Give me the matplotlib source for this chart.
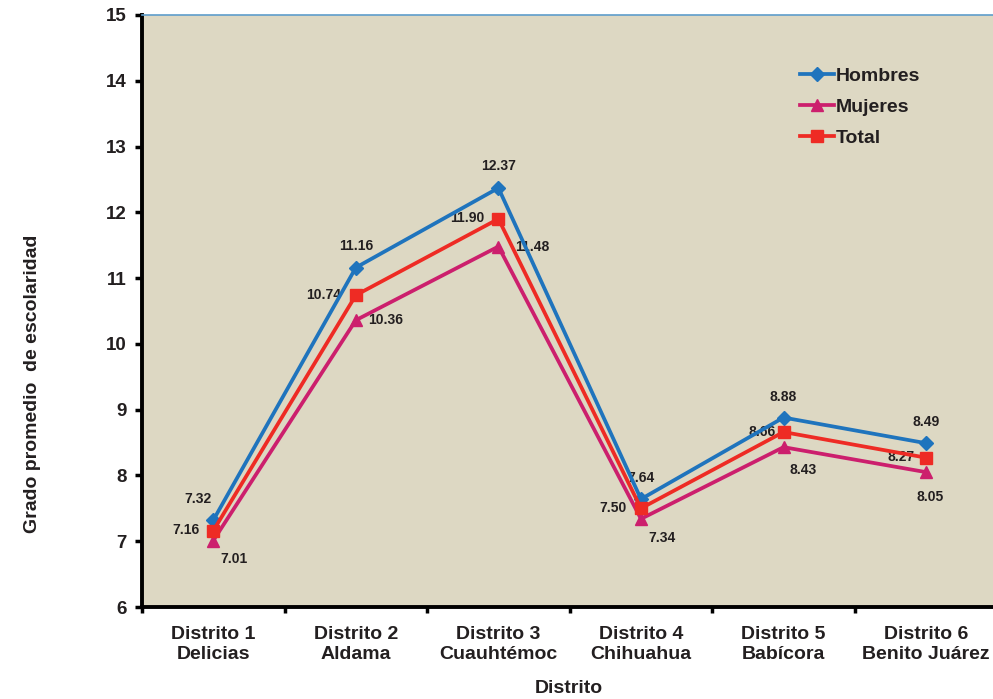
import matplotlib
matplotlib.use("Agg")
import matplotlib.pyplot as plt
import numpy as np

# data
distritos = ["Distrito 1\nDelicias", "Distrito 2\nAldama", "Distrito 3\nCuauhtémoc",
             "Distrito 4\nChihuahua", "Distrito 5\nBabícora", "Distrito 6\nBenito Juárez"]
hombres = [7.32, 11.16, 12.37, 7.64, 8.88, 8.49]
mujeres = [7.01, 10.36, 11.48, 7.34, 8.43, 8.05]
total = [7.16, 10.74, 11.90, 7.50, 8.66, 8.27]

INK = "#231F20"
BG = "#DDD8C3"
BLUE = "#1F74BD"
MAGENTA = "#CC1F6D"
RED = "#EE2B24"

plt.rcParams["font.family"] = ["Liberation Sans", "DejaVu Sans"]

fig = plt.figure(figsize=(9.93, 6.99), dpi=100)
ax = fig.add_axes([0.143, 0.1316, 0.86, 0.847])
ax.set_facecolor(BG)

x = np.arange(len(distritos))
ax.plot(x, hombres, color=BLUE, lw=2.7, marker="D", ms=7, label="Hombres", zorder=4)
ax.plot(x, mujeres, color=MAGENTA, lw=2.7, marker="^", ms=9, label="Mujeres", zorder=3)
ax.plot(x, total, color=RED, lw=2.7, marker="s", ms=9, label="Total", zorder=5)

lab = dict(fontsize=10, fontweight="bold", color=INK, textcoords="offset pixels")
hom_off = [(-15, 21), (0, 22), (0, 22), (0, 21), (0, 21), (0, 21)]
for i, v in enumerate(hombres):
    ax.annotate(f"{v:.2f}", (x[i], v), xytext=hom_off[i], ha="center", va="center", **lab)
muj_off = [(21, -18), (30, 0), (34, 0), (21, -19), (20, -23), (4, -25)]
for i, v in enumerate(mujeres):
    ax.annotate(f"{v:.2f}", (x[i], v), xytext=muj_off[i], ha="center", va="center", **lab)
tot_off = [(-27, 1), (-32, 0), (-31, 1), (-28, 0), (-21, 0), (-25, 1)]
for i, v in enumerate(total):
    ax.annotate(f"{v:.2f}", (x[i], v), xytext=tot_off[i], ha="center", va="center", **lab)

ax.set_xlim(-0.5, 5.49)
ax.set_ylim(6, 15)
ax.set_yticks(range(6, 16))
ax.set_xticks(np.arange(-0.5, 5.5, 1), minor=False)
ax.set_xticklabels([])
ax.set_xticks(x, minor=True)
ax.set_xticklabels(distritos, minor=True, fontsize=14, fontweight="bold", color=INK)
ax.tick_params(axis="x", which="minor", length=0, pad=14)
ax.tick_params(axis="x", which="major", length=4, width=2.5, color="black", direction="out")
ax.tick_params(axis="y", length=5, width=2.5, color="black", direction="out",
               labelsize=13.5, labelcolor=INK, pad=6)
for t in ax.get_yticklabels():
    t.set_fontweight("bold")

ax.spines["left"].set_linewidth(2.8)
ax.spines["bottom"].set_linewidth(2.8)
ax.spines["left"].set_color("black")
ax.spines["bottom"].set_color("black")
ax.spines["top"].set_color("#5E9DCB")
ax.spines["top"].set_linewidth(1.2)
ax.spines["right"].set_visible(False)

ax.set_xlabel("Distrito", fontsize=14, fontweight="bold", color=INK)
ax.set_ylabel("Grado promedio  de escolaridad", fontsize=14, fontweight="bold", color=INK)
ax.xaxis.set_label_coords(0.5, -0.123)
ax.yaxis.set_label_coords(-0.118, 0.377)

leg = ax.legend(loc="upper left", bbox_to_anchor=(0.77, 0.911), frameon=False,
                borderaxespad=0, borderpad=0,
                handlelength=1.75, handletextpad=0.1, labelspacing=0.68,
                prop=dict(size=14, weight="bold"))
for t in leg.get_texts():
    t.set_color(INK)

fig.savefig("out.png", dpi=100, facecolor="white")
